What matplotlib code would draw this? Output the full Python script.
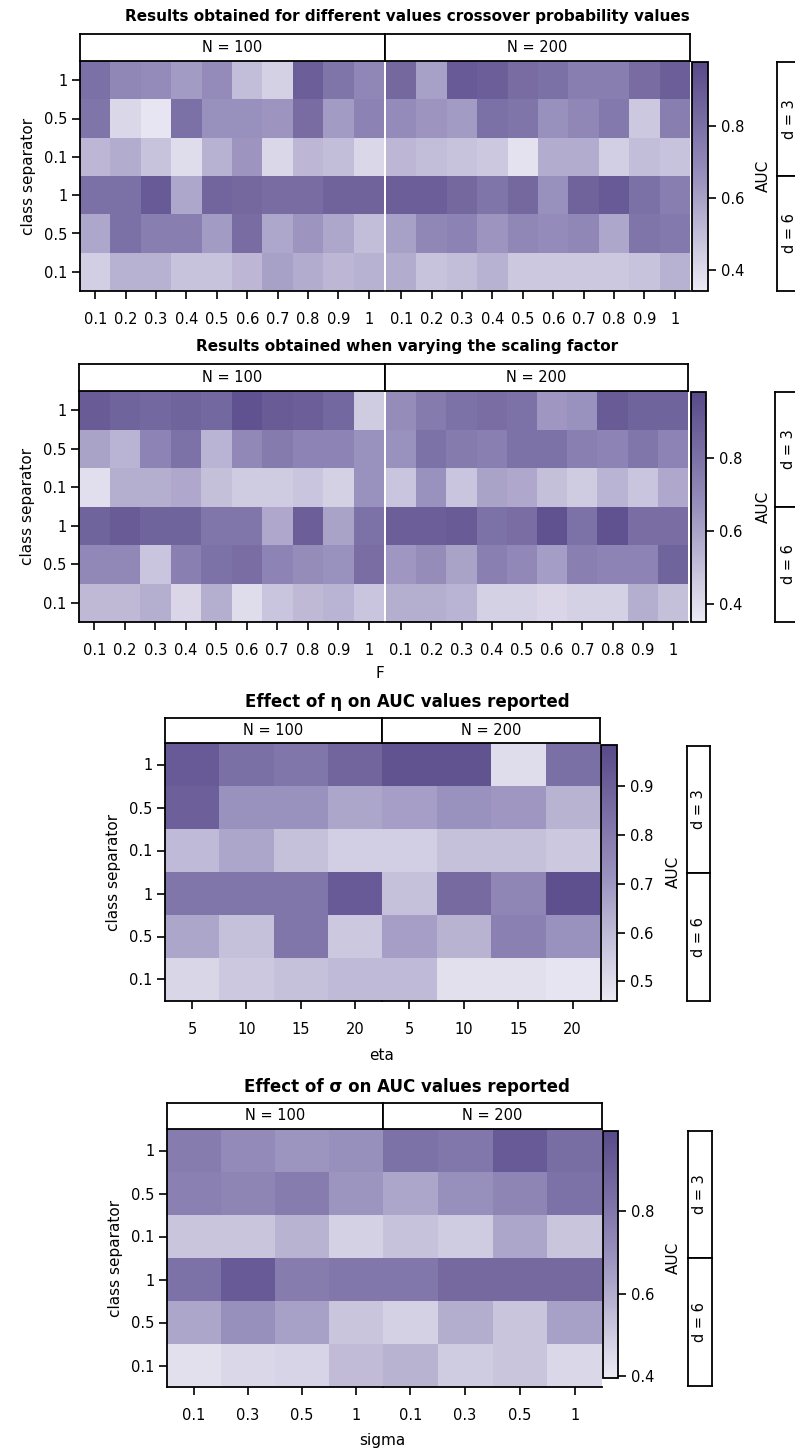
import numpy as np
import matplotlib.pyplot as plt
from matplotlib.colors import LinearSegmentedColormap

# rows: d=3 (cs 1, 0.5, 0.1) then d=6 (cs 1, 0.5, 0.1)
row_labels = ["1", "0.5", "0.1", "1", "0.5", "0.1"]
prob_labels = ["0.1", "0.2", "0.3", "0.4", "0.5", "0.6", "0.7", "0.8", "0.9", "1"]
eta_labels = ["5", "10", "15", "20"]
sigma_labels = ["0.1", "0.3", "0.5", "1"]

cross_n100 = [
    [0.80, 0.70, 0.68, 0.62, 0.68, 0.50, 0.43, 0.88, 0.78, 0.70],
    [0.78, 0.41, 0.36, 0.80, 0.66, 0.66, 0.64, 0.82, 0.62, 0.72],
    [0.52, 0.56, 0.48, 0.39, 0.54, 0.64, 0.41, 0.52, 0.50, 0.41],
    [0.80, 0.80, 0.90, 0.58, 0.85, 0.84, 0.82, 0.82, 0.86, 0.86],
    [0.58, 0.80, 0.74, 0.74, 0.62, 0.82, 0.58, 0.64, 0.58, 0.50],
    [0.44, 0.54, 0.54, 0.48, 0.48, 0.52, 0.60, 0.56, 0.52, 0.54],
]
cross_n200 = [
    [0.84, 0.60, 0.90, 0.88, 0.82, 0.80, 0.74, 0.74, 0.82, 0.88],
    [0.68, 0.64, 0.62, 0.80, 0.78, 0.66, 0.70, 0.76, 0.46, 0.74],
    [0.52, 0.50, 0.48, 0.46, 0.37, 0.56, 0.56, 0.44, 0.50, 0.48],
    [0.88, 0.88, 0.84, 0.78, 0.84, 0.66, 0.86, 0.90, 0.80, 0.74],
    [0.60, 0.70, 0.72, 0.64, 0.70, 0.68, 0.70, 0.58, 0.78, 0.76],
    [0.56, 0.48, 0.50, 0.54, 0.46, 0.46, 0.46, 0.46, 0.48, 0.54],
]

scale_n100 = [
    [0.90, 0.86, 0.84, 0.86, 0.84, 0.94, 0.90, 0.88, 0.84, 0.46],
    [0.60, 0.54, 0.72, 0.80, 0.54, 0.70, 0.76, 0.72, 0.72, 0.66],
    [0.39, 0.56, 0.56, 0.58, 0.50, 0.46, 0.46, 0.48, 0.44, 0.66],
    [0.86, 0.90, 0.86, 0.86, 0.78, 0.78, 0.58, 0.88, 0.60, 0.80],
    [0.70, 0.70, 0.48, 0.74, 0.80, 0.82, 0.72, 0.68, 0.66, 0.82],
    [0.52, 0.52, 0.56, 0.42, 0.56, 0.40, 0.48, 0.52, 0.54, 0.48],
]
scale_n200 = [
    [0.68, 0.76, 0.80, 0.82, 0.80, 0.64, 0.66, 0.90, 0.86, 0.86],
    [0.66, 0.80, 0.76, 0.74, 0.80, 0.80, 0.74, 0.72, 0.78, 0.72],
    [0.48, 0.66, 0.48, 0.60, 0.58, 0.50, 0.46, 0.54, 0.48, 0.58],
    [0.88, 0.88, 0.90, 0.80, 0.82, 0.94, 0.80, 0.94, 0.82, 0.82],
    [0.64, 0.68, 0.60, 0.74, 0.70, 0.62, 0.74, 0.72, 0.72, 0.86],
    [0.56, 0.56, 0.54, 0.44, 0.44, 0.42, 0.44, 0.44, 0.56, 0.50],
]

eta_n100 = [
    [0.92, 0.84, 0.82, 0.88],
    [0.90, 0.72, 0.72, 0.66],
    [0.60, 0.66, 0.58, 0.54],
    [0.82, 0.82, 0.82, 0.92],
    [0.66, 0.58, 0.82, 0.56],
    [0.52, 0.56, 0.58, 0.60],
]
eta_n200 = [
    [0.95, 0.95, 0.50, 0.84],
    [0.68, 0.72, 0.70, 0.62],
    [0.54, 0.58, 0.58, 0.56],
    [0.58, 0.86, 0.76, 0.96],
    [0.68, 0.62, 0.78, 0.72],
    [0.60, 0.49, 0.49, 0.48],
]

sigma_n100 = [
    [0.78, 0.72, 0.68, 0.70],
    [0.76, 0.74, 0.78, 0.68],
    [0.52, 0.52, 0.58, 0.48],
    [0.82, 0.92, 0.78, 0.80],
    [0.62, 0.70, 0.64, 0.52],
    [0.43, 0.46, 0.47, 0.55],
]
sigma_n200 = [
    [0.82, 0.80, 0.92, 0.84],
    [0.62, 0.70, 0.74, 0.82],
    [0.53, 0.50, 0.62, 0.52],
    [0.80, 0.86, 0.86, 0.86],
    [0.48, 0.60, 0.52, 0.64],
    [0.58, 0.50, 0.52, 0.46],
]

W, H = 795, 1450
fig = plt.figure(figsize=(W / 100, H / 100), dpi=100)
cmap = LinearSegmentedColormap.from_list("auc", ["#eceaf4", "#9890bd", "#584989"])


def box(x0, y0, x1, y1):
    return [x0 / W, 1 - y1 / H, (x1 - x0) / W, (y1 - y0) / H]


def strip(x0, y0, x1, y1, text, rot=0):
    ax = fig.add_axes(box(x0, y0, x1, y1))
    ax.set_xticks([]); ax.set_yticks([])
    for s in ax.spines.values():
        s.set_linewidth(1.3)
    ax.text(0.5, 0.5, text, rotation=rot, ha="center", va="center",
            fontsize=10.5, transform=ax.transAxes)


def panel(p, d100, d200, xlabels):
    vmin, vmax = p["lim"]
    xa, xm, xb = p["x"]
    ya, yb = p["y"]
    g = p["gap"]
    mesh = None
    for k, (data, x0, x1) in enumerate([(d100, xa, xm - g), (d200, xm + g, xb)]):
        arr = np.array(data)
        ax = fig.add_axes(box(x0, ya, x1, yb))
        mesh = ax.pcolormesh(np.arange(arr.shape[1] + 1), np.arange(7), arr,
                             cmap=cmap, vmin=vmin, vmax=vmax)
        ax.set_xlim(0, arr.shape[1]); ax.set_ylim(6, 0)
        ax.set_xticks(np.arange(arr.shape[1]) + 0.5)
        ax.set_xticklabels(xlabels, fontsize=10.5)
        ax.tick_params(axis="x", length=6, width=1.2, pad=9)
        ax.spines["top"].set_visible(False)
        ax.spines["right"].set_visible(False)
        ax.spines["bottom"].set_linewidth(1.3)
        if k == 0:
            ax.set_yticks(np.arange(6) + 0.5)
            ax.set_yticklabels(row_labels, fontsize=10.5)
            ax.tick_params(axis="y", length=6, width=1.2, pad=3)
            ax.spines["left"].set_linewidth(1.3)
            ax.set_ylabel("class separator", fontsize=11, labelpad=p["ylpad"])
        else:
            ax.set_yticks([])
            ax.spines["left"].set_visible(False)
    sy0, sy1 = p["strip"]
    strip(xa, sy0, xm, sy1, "N = 100")
    strip(xm, sy0, xb, sy1, "N = 200")
    cx0, cx1, cy0, cy1 = p["cbar"]
    cax = fig.add_axes(box(cx0, cy0, cx1, cy1))
    cb = fig.colorbar(mesh, cax=cax, ticks=p["cticks"])
    cb.outline.set_linewidth(1.3)
    cax.tick_params(length=6, width=1.2, labelsize=10.5)
    fig.text(p["auc_x"] / W, 1 - (ya + yb) / 2 / H, "AUC", rotation=90,
             ha="center", va="center", fontsize=11)
    rx0, rx1, ry0, rm, ry1 = p["rstrip"]
    strip(rx0, ry0, rx1, rm, "d = 3", rot=90)
    strip(rx0, rm, rx1, ry1, "d = 6", rot=90)
    fig.text(407 / W, 1 - p["title_y"] / H, p["title"], ha="center", va="center",
             fontsize=p["tsize"], fontweight="bold")
    if p["xlabel"]:
        fig.text(p["xl_pos"][0] / W, 1 - p["xl_pos"][1] / H, p["xlabel"],
                 ha="center", va="center", fontsize=11)


panels = [
    dict(title="Results obtained for different values crossover probability values",
         title_y=16, tsize=11, x=(80, 385, 690), y=(61, 291), gap=1, strip=(34, 61),
         cbar=(692, 708, 62, 291), lim=(0.34, 0.98), cticks=[0.4, 0.6, 0.8],
         auc_x=763, rstrip=(777, 802, 62, 176, 291), xlabel=None, ylpad=6),
    dict(title="Results obtained when varying the scaling factor",
         title_y=346, tsize=11, x=(79, 385, 688), y=(391, 622), gap=1, strip=(364, 391),
         cbar=(691, 706, 392, 622), lim=(0.35, 0.98), cticks=[0.4, 0.6, 0.8],
         auc_x=763, rstrip=(775, 802, 392, 507, 622), xlabel="F", xl_pos=(380, 673), ylpad=6),
    dict(title="Effect of η on AUC values reported",
         title_y=702, tsize=12, x=(165, 382, 600), y=(743, 1001), gap=0, strip=(718, 743),
         cbar=(601, 617, 745, 1001), lim=(0.46, 0.985), cticks=[0.5, 0.6, 0.7, 0.8, 0.9],
         auc_x=673, rstrip=(687, 710, 746, 873, 1001), xlabel="eta", xl_pos=(382, 1055), ylpad=6),
    dict(title="Effect of σ on AUC values reported",
         title_y=1087, tsize=12, x=(167, 383, 602), y=(1129, 1387), gap=0, strip=(1103, 1129),
         cbar=(603, 618, 1131, 1378), lim=(0.395, 0.995), cticks=[0.4, 0.6, 0.8],
         auc_x=673, rstrip=(688, 712, 1131, 1258, 1386), xlabel="sigma", xl_pos=(382, 1440), ylpad=6),
]

panel(panels[0], cross_n100, cross_n200, prob_labels)
panel(panels[1], scale_n100, scale_n200, prob_labels)
panel(panels[2], eta_n100, eta_n200, eta_labels)
panel(panels[3], sigma_n100, sigma_n200, sigma_labels)

fig.savefig("out.png", dpi=100)
